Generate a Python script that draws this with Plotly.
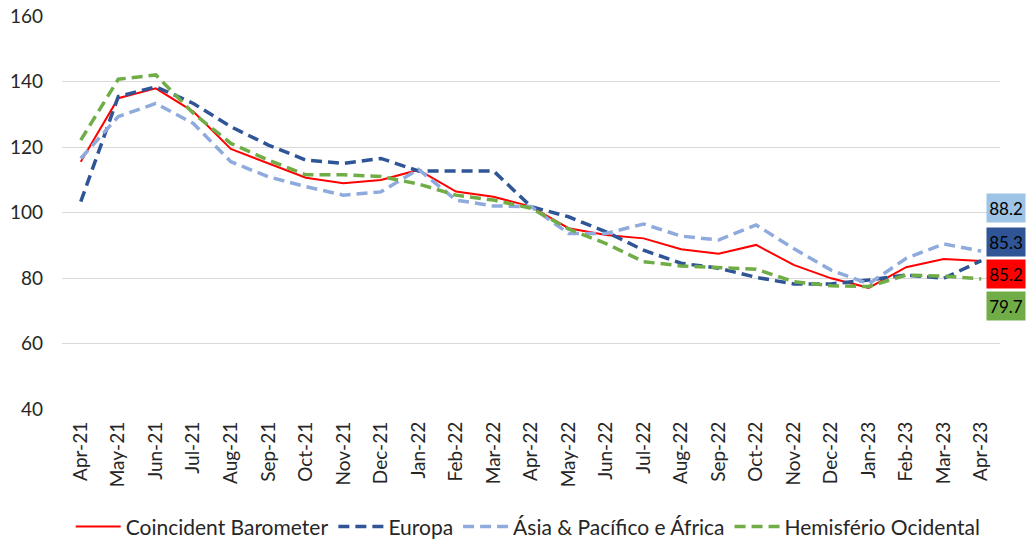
import plotly.graph_objects as go

months = ["Apr-21","May-21","Jun-21","Jul-21","Aug-21","Sep-21","Oct-21","Nov-21","Dec-21",
          "Jan-22","Feb-22","Mar-22","Apr-22","May-22","Jun-22","Jul-22","Aug-22","Sep-22",
          "Oct-22","Nov-22","Dec-22","Jan-23","Feb-23","Mar-23","Apr-23"]

coincident = [115.5,134.9,137.9,130.8,119.4,115.0,110.6,108.9,109.9,113.0,106.4,104.8,101.8,
              95.2,93.1,92.1,88.8,87.4,90.1,84.0,79.9,77.0,83.3,85.8,85.2]
europa = [103.3,135.4,138.4,133.3,126.2,120.6,116.0,115.0,116.5,112.7,112.7,112.7,101.8,
          98.7,94.1,88.5,84.5,83.0,80.2,78.2,78.2,79.4,80.9,79.9,85.3]
asia = [116.5,129.3,133.3,127.2,115.5,110.9,107.9,105.3,106.3,113.2,103.8,102.0,101.8,
        93.6,93.6,96.5,92.8,91.6,96.2,89.0,82.4,78.2,86.0,90.4,88.2]
hemisferio = [122.1,140.7,142.0,130.3,121.1,116.0,111.5,111.5,111.0,108.7,105.3,103.8,101.3,
              95.0,90.5,85.0,83.7,83.3,82.7,78.9,77.6,77.4,80.9,80.6,79.7]

names = ["Coincident Barometer", "Europa", "Ásia & Pacífico e África", "Hemisfério Ocidental"]
colors = ["#FF0000", "#2F5597", "#8FAADC", "#70AD47"]
label_bg = ["#FF0000", "#2F5597", "#9DC3E6", "#70AD47"]
series = [coincident, europa, asia, hemisferio]
y_ticks = [40, 60, 80, 100, 120, 140, 160]

FONT = "Lato, Liberation Sans, Arial, sans-serif"
TXT = "#262626"

fig = go.Figure()
for i, (nm, vals, col) in enumerate(zip(names, series, colors)):
    if i == 0:
        line = dict(color=col, width=2)
    else:
        line = dict(color=col, width=3.5, dash="11px,6px")
    fig.add_trace(go.Scatter(x=months, y=vals, name=nm, mode="lines", line=line))

# end-value labels stacked at the right (order: Asia, Europa, Coincident, Hemisferio)
order = [2, 1, 0, 3]
label_paper_y = [0.511, 0.425, 0.343, 0.262]
for py, idx in zip(label_paper_y, order):
    fig.add_annotation(xref="paper", yref="paper", x=1.0, y=py, xanchor="right", yanchor="middle",
                       text="%.1f" % series[idx][-1], showarrow=False,
                       font=dict(family=FONT, size=17, color="#000000"),
                       width=34, height=24, align="center", valign="middle",
                       bgcolor=label_bg[idx], borderpad=2, xshift=26)

fig.update_layout(
    width=1027, height=534,
    margin=dict(l=54, r=35, t=8, b=133, autoexpand=False),
    plot_bgcolor="white", paper_bgcolor="white",
    font=dict(family=FONT, size=19, color=TXT),
    showlegend=True,
    legend=dict(orientation="h", x=0.497, xanchor="center", y=-0.300, yanchor="middle",
                font=dict(family=FONT, size=21, color=TXT), itemwidth=45,
                tracegroupgap=0),
    xaxis=dict(type="category", range=[-0.5, 24.5], tickangle=-90, showgrid=False,
               showline=False, ticks="", automargin=False, ticklabelstandoff=8,
               tickfont=dict(family=FONT, size=19, color=TXT)),
    yaxis=dict(range=[40, 160], tickvals=y_ticks, showgrid=True, gridcolor="#D9D9D9", gridwidth=1,
               zeroline=False, showline=False, ticks="", automargin=False, ticklabelstandoff=18,
               ticklabeloverflow="allow",
               tickfont=dict(family=FONT, size=19, color=TXT)),
)

fig.write_html("out.html")
